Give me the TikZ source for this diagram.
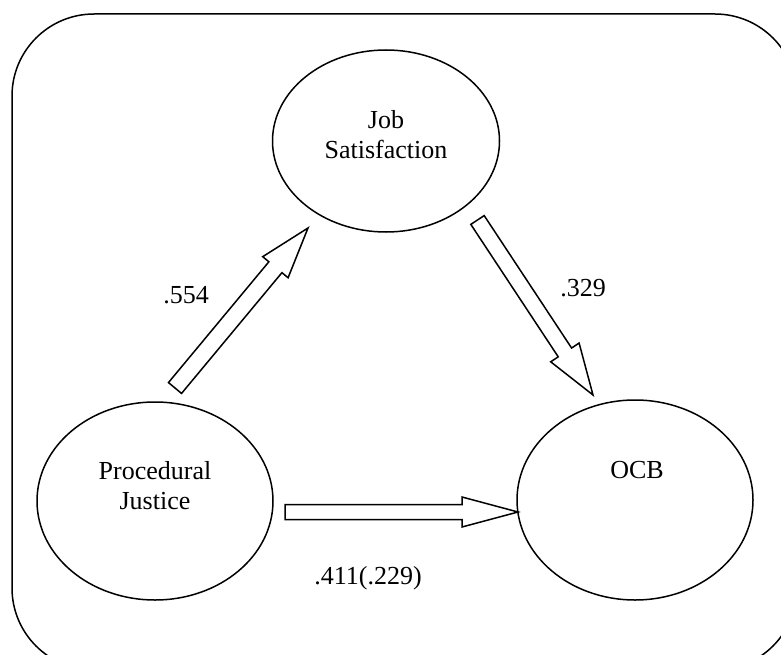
\documentclass[tikz,border=0pt]{standalone}
\usepackage{fontspec}
\setmainfont{Liberation Serif}
\usetikzlibrary{shapes.geometric,calc}
\tikzset{
  ell/.style={ellipse, draw, line width=1.5pt, inner sep=0pt},
  txt/.style={align=center, font=\fontsize{26}{30}\selectfont, inner sep=0pt},
  blk/.style={draw, fill=white, line width=1.5pt, line join=miter},
}
\newcommand{\blockarrow}[5]{%
  \coordinate (H) at ($(#2)!#5!(#1)$);
  \draw[blk] ($(#1)!#3!90:(#2)$) -- ($(H)!#3!90:(#2)$) -- ($(H)!#4!90:(#2)$) -- (#2)
    -- ($(H)!#4!-90:(#2)$) -- ($(H)!#3!-90:(#2)$) -- ($(#1)!#3!-90:(#2)$) -- cycle;
}
\begin{document}
\begin{tikzpicture}[x=1pt,y=-1pt]
\useasboundingbox (0,0) rectangle (781,655);
\begin{scope}
\clip (0,0) rectangle (781,655);
\draw[line width=1.5pt, rounded corners=82pt] (12,14) rectangle (797,670);
\end{scope}
\node[ell, minimum width=227pt, minimum height=182pt] (js) at (386,141) {};
\node[ell, minimum width=236pt, minimum height=198pt] (pj) at (155,501) {};
\node[ell, minimum width=236pt, minimum height=200pt] (ocb) at (635,500) {};
\node[txt] (jst) at (386,135) {Job\\Satisfaction};
\node[txt] (pjt) at (155,486) {Procedural\\Justice};
\node[txt] (ocbt) at (637,470) {OCB};
\coordinate (a1) at (175,388);
\coordinate (b1) at (308,228);
\coordinate (a2) at (477.5,220);
\coordinate (b2) at (593,395);
\coordinate (a3) at (285,512);
\coordinate (b3) at (518,512);
\blockarrow{a1}{b1}{8.5pt}{16.5pt}{51pt}
\blockarrow{a2}{b2}{8pt}{17pt}{51pt}
\blockarrow{a3}{b3}{7.5pt}{15pt}{56pt}
\node[txt] (l1) at (186,295) {.554};
\node[txt] (l2) at (583,288) {.329};
\node[txt] (l3) at (368,578) {.411(.229)};
\end{tikzpicture}
\end{document}
